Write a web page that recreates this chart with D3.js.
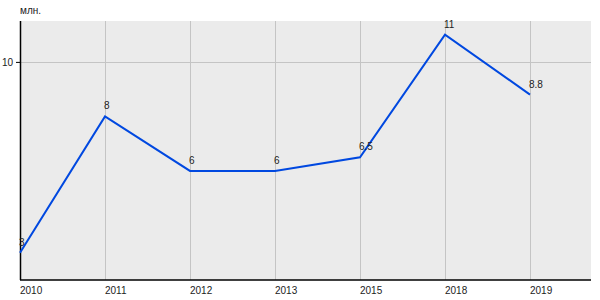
<!DOCTYPE html>
<html lang="ru">
<head>
    <meta charset="UTF-8">
    <script src="https://d3js.org/d3.v7.min.js" charset="utf-8"></script>
    <title>млн.</title>
    <style>
        body { margin: 0; background: #fff; }
        text { font-family: "Liberation Sans", Arial, sans-serif; fill: #222; }
    </style>
</head>
<body>
    <div class="chart"></div>
    <script>
        const years = ["2010", "2011", "2012", "2013", "2015", "2018", "2019"];
        const values = [3, 8, 6, 6, 6.5, 11, 8.8];
        const valueLabels = ["3", "8", "6", "6", "6.5", "11", "8.8"];
        const yTicks = [10];
        const unitLabel = "млн.";

        const width = 600, height = 300;
        const margin = {top: 21, right: 9, bottom: 20, left: 20};
        const plotW = width - margin.left - margin.right;
        const plotH = height - margin.top - margin.bottom;

        const svg = d3.select(".chart").append("svg")
            .attr("width", width)
            .attr("height", height);

        const g = svg.append("g")
            .attr("transform", `translate(${margin.left},${margin.top})`);

        // points spaced 85px apart, first one on the left axis
        const x = d3.scalePoint()
            .domain(years)
            .range([0, 85 * (years.length - 1)]);

        const y = d3.scaleLinear()
            .domain([2, 11.5])
            .range([plotH, 0]);

        g.append("rect")
            .attr("width", plotW)
            .attr("height", plotH)
            .attr("fill", "#ebebeb");

        // grid
        g.selectAll(".vgrid")
            .data(years)
            .enter()
            .append("line")
            .attr("x1", d => x(d) + 0.5)
            .attr("x2", d => x(d) + 0.5)
            .attr("y1", 0)
            .attr("y2", plotH)
            .attr("stroke", "#c4c4c4")
            .attr("stroke-width", 1);

        g.selectAll(".hgrid")
            .data(yTicks)
            .enter()
            .append("line")
            .attr("x1", 0)
            .attr("x2", plotW)
            .attr("y1", d => Math.round(y(d)) + 0.5)
            .attr("y2", d => Math.round(y(d)) + 0.5)
            .attr("stroke", "#c4c4c4")
            .attr("stroke-width", 1);

        // y axis
        const yAxis = d3.axisLeft(y).tickValues(yTicks).tickSize(4).tickPadding(3);
        const yG = g.append("g").call(yAxis);
        yG.select(".domain").remove();
        yG.selectAll(".tick line").attr("stroke", "#000");
        yG.selectAll(".tick text").attr("font-size", 10).style("fill", "#222");

        g.append("line")
            .attr("x1", 0.5).attr("x2", 0.5)
            .attr("y1", 0).attr("y2", plotH)
            .attr("stroke", "#000").attr("stroke-width", 1.5);

        g.append("line")
            .attr("x1", 0).attr("x2", plotW)
            .attr("y1", plotH).attr("y2", plotH)
            .attr("stroke", "#000").attr("stroke-width", 1.5);

        // x labels, left-aligned on gridlines
        g.selectAll(".xlab")
            .data(years)
            .enter()
            .append("text")
            .attr("x", d => x(d))
            .attr("y", plotH + 14)
            .attr("font-size", 10)
            .text(d => d);

        svg.append("text")
            .attr("x", margin.left)
            .attr("y", 14)
            .attr("font-size", 10)
            .text(unitLabel);

        // line
        const line = d3.line()
            .x((d, i) => x(years[i]))
            .y(d => y(d));

        g.append("path")
            .datum(values)
            .attr("d", line)
            .attr("fill", "none")
            .attr("stroke", "#0048e0")
            .attr("stroke-width", 2);

        g.selectAll(".vlab")
            .data(values)
            .enter()
            .append("text")
            .attr("x", (d, i) => x(years[i]) - 1)
            .attr("y", d => y(d) - 7)
            .attr("font-size", 10)
            .text((d, i) => valueLabels[i]);
    </script>
</body>
</html>
